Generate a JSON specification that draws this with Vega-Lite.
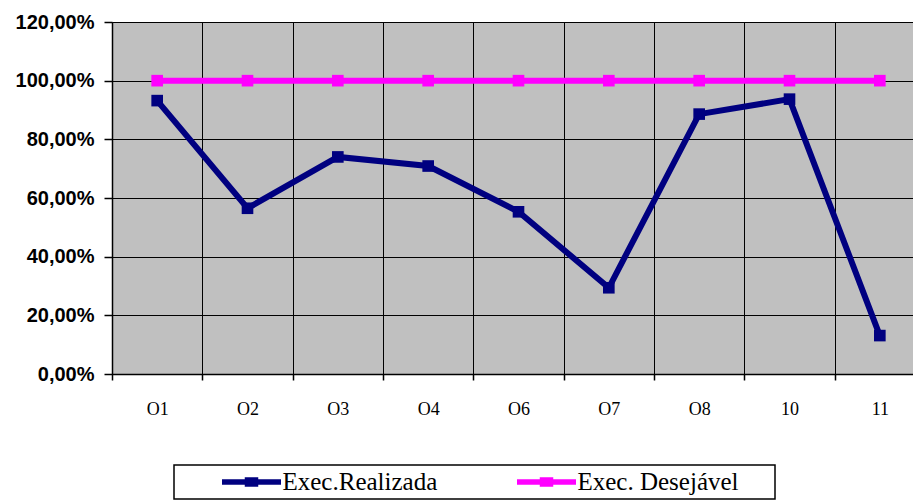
{
  "$schema": "https://vega.github.io/schema/vega-lite/v6.json",
  "width": 813,
  "height": 352,
  "autosize": {"type": "none"},
  "padding": {"left": 112, "top": 22, "right": 0, "bottom": 127},
  "background": "white",
  "config": {
    "view": {"fill": "#C0C0C0", "stroke": "#A0A0A0", "strokeWidth": 1},
    "legend": {"strokeWidth": 1.5, "labelFont": "Liberation Serif", "labelFontSize": 25, "labelColor": "black"}
  },
  "data": {
    "values": [
      {"cat": "O1", "serie": "Exec.Realizada", "valor": 0.932},
      {"cat": "O2", "serie": "Exec.Realizada", "valor": 0.565},
      {"cat": "O3", "serie": "Exec.Realizada", "valor": 0.740},
      {"cat": "O4", "serie": "Exec.Realizada", "valor": 0.709},
      {"cat": "O6", "serie": "Exec.Realizada", "valor": 0.553},
      {"cat": "O7", "serie": "Exec.Realizada", "valor": 0.294},
      {"cat": "O8", "serie": "Exec.Realizada", "valor": 0.886},
      {"cat": "10", "serie": "Exec.Realizada", "valor": 0.937},
      {"cat": "11", "serie": "Exec.Realizada", "valor": 0.131},
      {"cat": "O1", "serie": "Exec. Desejável", "valor": 1.0},
      {"cat": "O2", "serie": "Exec. Desejável", "valor": 1.0},
      {"cat": "O3", "serie": "Exec. Desejável", "valor": 1.0},
      {"cat": "O4", "serie": "Exec. Desejável", "valor": 1.0},
      {"cat": "O6", "serie": "Exec. Desejável", "valor": 1.0},
      {"cat": "O7", "serie": "Exec. Desejável", "valor": 1.0},
      {"cat": "O8", "serie": "Exec. Desejável", "valor": 1.0},
      {"cat": "10", "serie": "Exec. Desejável", "valor": 1.0},
      {"cat": "11", "serie": "Exec. Desejável", "valor": 1.0}
    ]
  },
  "encoding": {
    "x": {
      "field": "cat",
      "type": "nominal",
      "sort": ["O1", "O2", "O3", "O4", "O6", "O7", "O8", "10", "11"],
      "bandPosition": 0.5,
      "scale": {"type": "band", "paddingInner": 0, "paddingOuter": 0},
      "axis": {
        "title": null,
        "labelAngle": 0,
        "grid": true,
        "gridColor": "black",
        "gridOpacity": 1,
        "gridWidth": 1,
        "tickBand": "extent",
        "tickColor": "black",
        "tickSize": 6,
        "tickWidth": 1.5,
        "domainColor": "black",
        "domainWidth": 1.5,
        "labelFont": "Liberation Serif",
        "labelFontSize": 18,
        "labelColor": "black",
        "labelPadding": 20
      }
    },
    "y": {
      "field": "valor",
      "type": "quantitative",
      "scale": {"domain": [0, 1.2], "nice": false, "zero": true},
      "axis": {
        "title": null,
        "values": [0, 0.2, 0.4, 0.6, 0.8, 1, 1.2],
        "labelExpr": "replace(format(datum.value, '.2%'), '.', ',')",
        "grid": true,
        "gridColor": "black",
        "gridOpacity": 1,
        "gridWidth": 1,
        "tickColor": "black",
        "tickSize": 8,
        "tickWidth": 1.5,
        "domainColor": "black",
        "domainWidth": 1.5,
        "labelFont": "Liberation Sans",
        "labelFontWeight": "bold",
        "labelFontSize": 20,
        "labelColor": "black",
        "labelPadding": 10
      }
    },
    "color": {
      "field": "serie",
      "type": "nominal",
      "scale": {"domain": ["Exec.Realizada", "Exec. Desejável"], "range": ["#000080", "#FF00FF"]},
      "legend": {
        "title": "\u00a0",
        "titleOrient": "right",
        "titlePadding": 32,
        "titleFontSize": 2,
        "orient": "none",
        "legendX": 62,
        "legendY": 443,
        "direction": "horizontal",
        "columns": 2,
        "padding": 4,
        "strokeColor": "black",
        "fillColor": "white",
        "symbolType": "M-2.95,0H2.95M-0.4,-0.2H0.4V0.2H-0.4Z",
        "symbolSize": 400,
        "symbolStrokeWidth": 5.5,
        "symbolOffset": 60.5,
        "labelOffset": 18,
        "labelFont": "Liberation Serif",
        "labelFontSize": 25,
        "labelColor": "black",
        "labelLimit": 500,
        "columnPadding": 35,
        "symbolOpacity": 1
      }
    }
  },
  "layer": [
    {"mark": {"type": "line", "strokeWidth": 6}},
    {"mark": {"type": "point", "shape": "square", "filled": true, "size": 135, "opacity": 1}}
  ]
}
